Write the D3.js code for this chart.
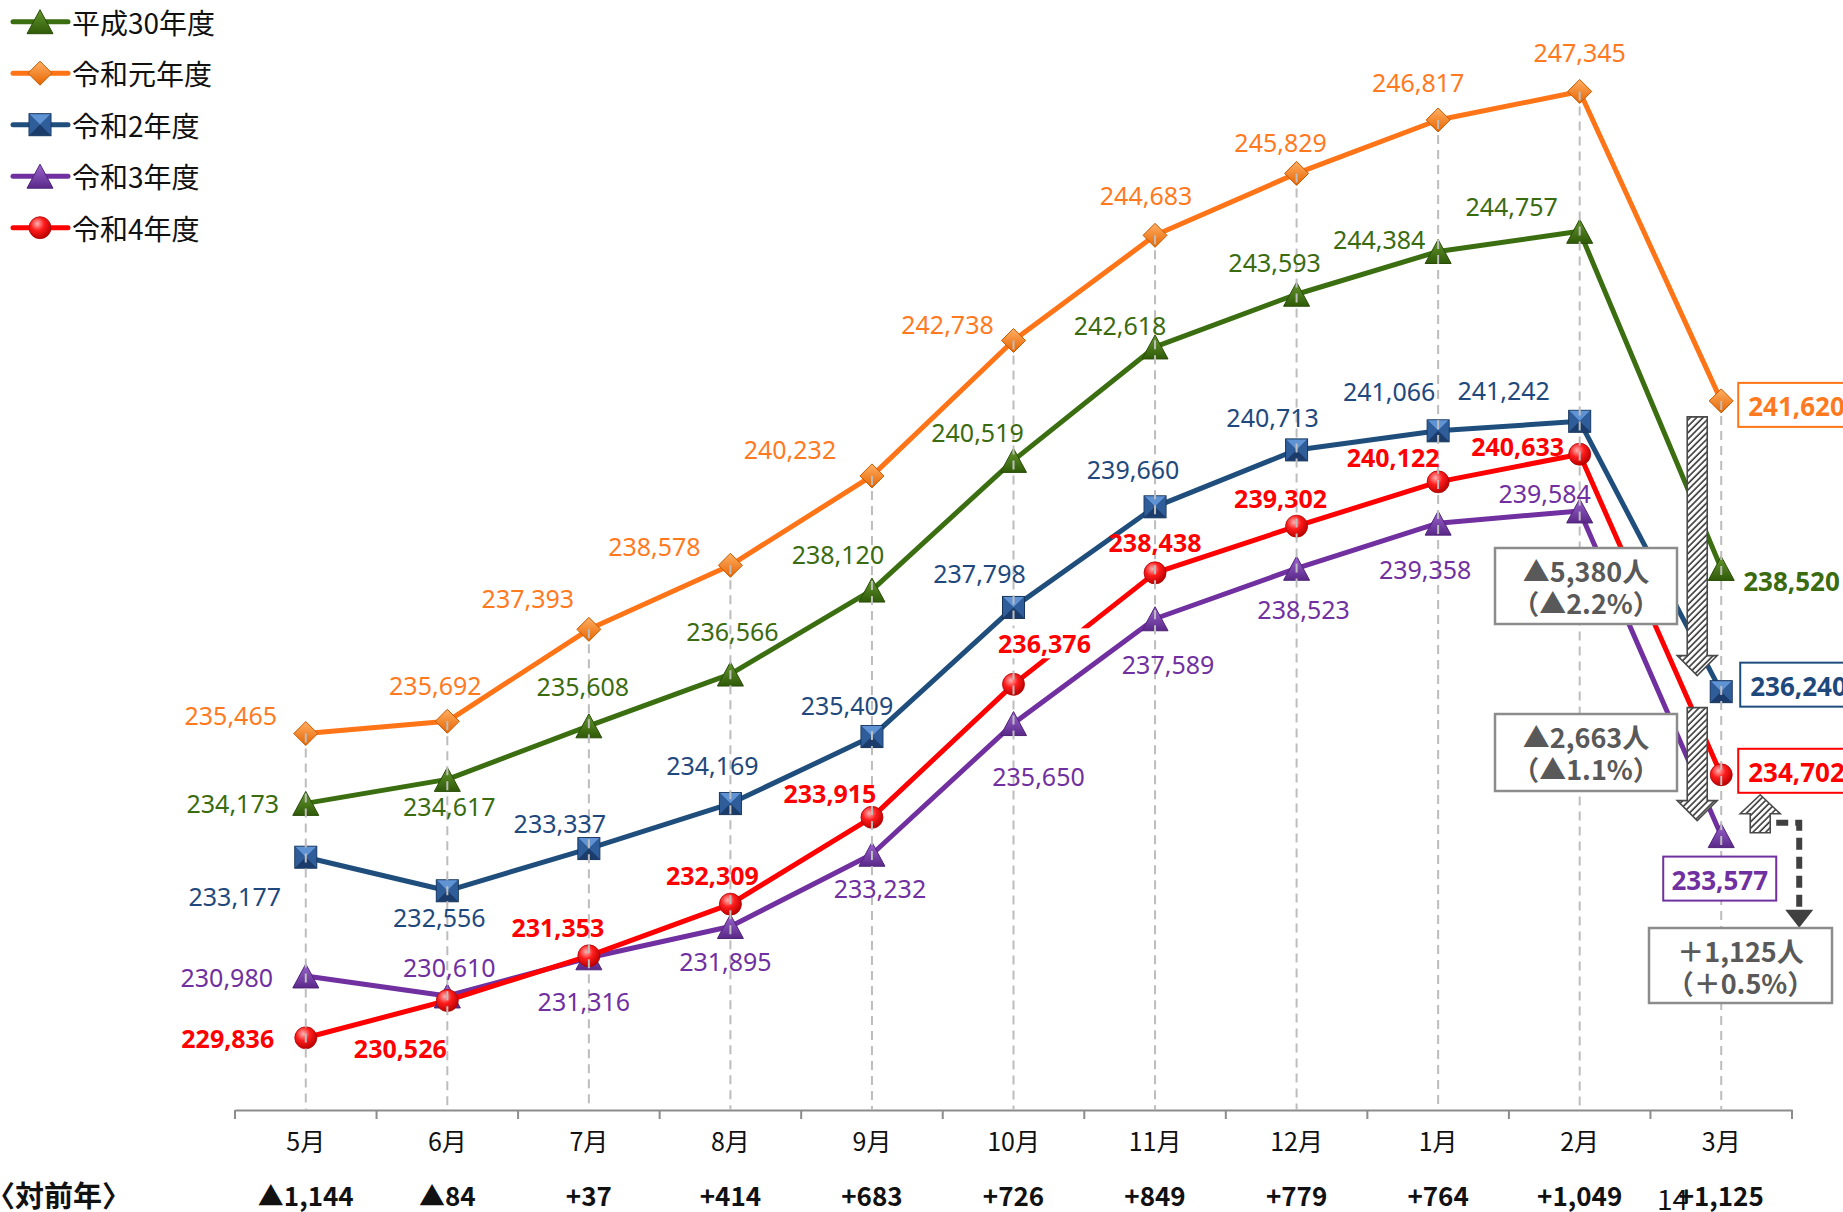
<!DOCTYPE html>
<html>
<head>
<meta charset="utf-8">
<script src="https://cdn.jsdelivr.net/npm/d3@7"></script>
<style>
  body { margin: 0; background: #fff; }
  svg { display: block; }
</style>
</head>
<body>
<svg id="chart" width="1843" height="1212"></svg>
<script>
// ---- data ----
const months = ["5月", "6月", "7月", "8月", "9月", "10月", "11月", "12月", "1月", "2月", "3月"];
const seriesNames = ["平成30年度", "令和元年度", "令和2年度", "令和3年度", "令和4年度"];
const h30 = [234173, 234617, 235608, 236566, 238120, 240519, 242618, 243593, 244384, 244757, 238520];
const r1  = [235465, 235692, 237393, 238578, 240232, 242738, 244683, 245829, 246817, 247345, 241620];
const r2  = [233177, 232556, 233337, 234169, 235409, 237798, 239660, 240713, 241066, 241242, 236240];
const r3  = [230980, 230610, 231316, 231895, 233232, 235650, 237589, 238523, 239358, 239584, 233577];
const r4  = [229836, 230526, 231353, 232309, 233915, 236376, 238438, 239302, 240122, 240633, 234702];
const yoyLabels = ["▲1,144", "▲84", "+37", "+414", "+683", "+726", "+849", "+779", "+764", "+1,049", "+1,125"];
const diffNotes = [["▲5,380人", "（▲2.2%）"], ["▲2,663人", "（▲1.1%）"], ["＋1,125人", "（＋0.5%）"]];

// ---- styling / layout ----
const svg = d3.select("#chart");
const defs = svg.append("defs");
const numFont = "'Noto Sans', sans-serif";
const jpFont = "'Noto Sans CJK JP', 'Noto Sans', sans-serif";

const styles = [
  { line: "#3b6e10", text: "#3a6b0f", shape: "triangle", g: ["#66982f", "#2f5a08"], stroke: "#2a4c09", bold: false },
  { line: "#ff7417", text: "#ff7a1f", shape: "diamond",  g: ["#ffb066", "#e66400"], stroke: "#c45a00", bold: false },
  { line: "#1f4e7d", text: "#1f497d", shape: "square",   g: ["#5a8ccc", "#1b3c6a"], stroke: "#17355c", bold: false },
  { line: "#7030a0", text: "#7030a0", shape: "triangle", g: ["#9c66cf", "#5a2889"], stroke: "#4f2378", bold: false },
  { line: "#ff0000", text: "#ff0000", shape: "circle",   g: ["#ffa0a0", "#d00000"], stroke: "#b00000", bold: true }
];
const allSeries = [h30, r1, r2, r3, r4];

// label nudges [dx, dy] per series and month (last month handled separately)
const nudges = [
  [[-73,0],[2,27],[-6,-40],[2,-43],[-34,-36],[-36,-28],[-35,-22],[-22,-32],[-59,-12],[-68,-25]],
  [[-75,-19],[-12,-36],[-61,-31],[-76,-19],[-82,-27],[-66,-16],[-9,-40],[-16,-31],[-20,-38],[0,-39]],
  [[-71,39],[-8,26],[-29,-26],[-18,-39],[-25,-32],[-34,-34],[-22,-38],[-24,-33],[-49,-40],[-76,-31]],
  [[-79,1],[2,-29],[-5,43],[-5,34],[8,34],[25,52],[13,45],[7,41],[-13,46],[-35,-18]],
  [[-78,0],[-47,48],[-31,-29],[-18,-29],[-42,-24],[31,-41],[0,-31],[-16,-28],[-45,-25],[-62,-8]]
];
// labels that sit on a white plate over the lines: [series, month]
const platedLabels = [[4, 5]];

// ---- scales ----
const x = d3.scaleBand().domain(months).range([235, 1792]).padding(0);
const cx = m => x(m) + x.bandwidth() / 2;
const y = d3.scaleLinear().domain([228500, 249000]).range([1110, 2]);

// ---- gradients & pattern ----
styles.forEach((s, i) => {
  if (s.shape === "circle") {
    const rg = defs.append("radialGradient").attr("id", "mg" + i)
      .attr("cx", "38%").attr("cy", "32%").attr("r", "70%");
    rg.append("stop").attr("offset", "0%").attr("stop-color", "#ffb3b3");
    rg.append("stop").attr("offset", "45%").attr("stop-color", "#ff1c1c");
    rg.append("stop").attr("offset", "100%").attr("stop-color", "#b80000");
  } else {
    const lg = defs.append("linearGradient").attr("id", "mg" + i)
      .attr("x1", 0).attr("y1", 0).attr("x2", 0).attr("y2", 1);
    lg.append("stop").attr("offset", "0%").attr("stop-color", s.g[0]);
    lg.append("stop").attr("offset", "100%").attr("stop-color", s.g[1]);
  }
});
const pat = defs.append("pattern").attr("id", "hatch").attr("patternUnits", "userSpaceOnUse")
  .attr("width", 4.5).attr("height", 4.5).attr("patternTransform", "rotate(45)");
pat.append("rect").attr("width", 4.5).attr("height", 4.5).attr("fill", "#fff");
pat.append("line").attr("x1", 1).attr("y1", 0).attr("x2", 1).attr("y2", 4.5)
  .attr("stroke", "#1a1a1a").attr("stroke-width", 1.4);

function drawMarker(g, s, i) {
  if (s.shape === "triangle") {
    g.append("path").attr("d", "M0,-12L13,12L-13,12Z")
      .attr("fill", `url(#mg${i})`).attr("stroke", s.stroke).attr("stroke-width", 1);
  } else if (s.shape === "diamond") {
    g.append("path").attr("d", "M0,-12L12,0L0,12L-12,0Z")
      .attr("fill", `url(#mg${i})`).attr("stroke", s.stroke).attr("stroke-width", 1);
  } else if (s.shape === "square") {
    g.append("rect").attr("x", -11).attr("y", -11).attr("width", 22).attr("height", 22)
      .attr("fill", "#244e86").attr("stroke", s.stroke).attr("stroke-width", 1);
    g.append("path").attr("d", "M-10.5,-10.5L10.5,-10.5L0,0Z").attr("fill", "#5f93d4");
    g.append("path").attr("d", "M-10.5,-10.5L0,0L-10.5,10.5Z").attr("fill", "#2e5d9a");
    g.append("path").attr("d", "M10.5,-10.5L0,0L10.5,10.5Z").attr("fill", "#2e5d9a");
    g.append("path").attr("d", "M-10.5,10.5L0,0L10.5,10.5Z").attr("fill", "#1b3c6a");
  } else {
    g.append("circle").attr("r", 11).attr("fill", `url(#mg${i})`)
      .attr("stroke", s.stroke).attr("stroke-width", 0.8);
  }
}

// ---- axis ----
const axisG = svg.append("g").attr("transform", "translate(0,1110)")
  .call(d3.axisBottom(x).tickSize(0).tickSizeOuter(0));
axisG.select(".domain").attr("stroke", "#8c8c8c").attr("stroke-width", 2);
axisG.selectAll(".tick text")
  .attr("y", 41).attr("dy", null)
  .attr("font-family", jpFont).attr("font-size", 25).attr("fill", "#111");
const bounds = months.map(m => x(m)).concat([x.range()[1]]);
axisG.selectAll(".bound").data(bounds).join("line").attr("class", "bound")
  .attr("x1", d => d).attr("x2", d => d).attr("y1", 0).attr("y2", 9)
  .attr("stroke", "#8c8c8c").attr("stroke-width", 2);

// ---- lines & markers ----
const line = d3.line().x((d, i) => cx(months[i])).y(d => y(d));
allSeries.forEach((data, si) => {
  const s = styles[si];
  svg.append("path").datum(data).attr("d", line)
    .attr("fill", "none").attr("stroke", s.line).attr("stroke-width", 5)
    .attr("stroke-linejoin", "round");
});
allSeries.forEach((data, si) => {
  const s = styles[si];
  data.forEach((v, i) => {
    const g = svg.append("g").attr("transform", `translate(${cx(months[i])},${y(v)})`);
    drawMarker(g, s, si);
  });
});

// ---- drop lines from the top series to the axis ----
svg.append("g").selectAll("line").data(months).join("line")
  .attr("x1", m => cx(m)).attr("x2", m => cx(m))
  .attr("y1", (m, i) => y(d3.max(allSeries, s => s[i])))
  .attr("y2", 1110)
  .attr("stroke", "#bdbdbd").attr("stroke-width", 2).attr("stroke-dasharray", "9,6");

// ---- value labels ----
const fmt = d3.format(",");
allSeries.forEach((data, si) => {
  const s = styles[si];
  data.slice(0, 10).forEach((v, i) => {
    const [dx, dy] = nudges[si][i];
    const t = svg.append("text")
      .attr("x", cx(months[i]) + dx).attr("y", y(v) + dy)
      .attr("text-anchor", "middle").attr("dominant-baseline", "central")
      .attr("font-family", numFont).attr("font-size", 25)
      .attr("font-weight", s.bold ? 700 : 400)
      .attr("fill", s.text).text(fmt(v));
    if (platedLabels.some(([a, b]) => a === si && b === i)) {
      const bb = t.node().getBBox();
      svg.insert("rect", () => t.node())
        .attr("x", bb.x - 3).attr("y", bb.y + 2).attr("width", bb.width + 6).attr("height", bb.height - 4)
        .attr("fill", "#fff");
    }
  });
});

// last-month labels
const last = months.length - 1;
const xl = cx(months[last]);
svg.append("text").attr("x", xl + 22).attr("y", y(h30[last]) + 13)
  .attr("dominant-baseline", "central")
  .attr("font-family", numFont).attr("font-size", 26).attr("font-weight", 700)
  .attr("fill", styles[0].text).text(fmt(h30[last]));

function boxedLabel(val, s, bx, by, bw, bh, anchorMid) {
  svg.append("rect").attr("x", bx).attr("y", by).attr("width", bw).attr("height", bh)
    .attr("fill", "#fff").attr("stroke", s.line).attr("stroke-width", 2);
  svg.append("text")
    .attr("x", anchorMid ? bx + bw / 2 : bx + 10).attr("y", by + bh / 2 + 1)
    .attr("text-anchor", anchorMid ? "middle" : "start")
    .attr("dominant-baseline", "central")
    .attr("font-family", numFont).attr("font-size", 26).attr("font-weight", 700)
    .attr("fill", s.text).text(fmt(val));
}
boxedLabel(r1[last], styles[1], xl + 17, y(r1[last]) - 18, 130, 44, false);
boxedLabel(r2[last], styles[2], xl + 19, y(r2[last]) - 29, 130, 44, false);
boxedLabel(r4[last], styles[4], xl + 17, y(r4[last]) - 26, 130, 44, false);

// ---- difference arrows & notes ----
function downArrow(cxp, top, tip) {
  const sw = 10, hw = 20, hh = 20;
  return `M${cxp - sw},${top}L${cxp + sw},${top}L${cxp + sw},${tip - hh}L${cxp + hw},${tip - hh}` +
         `L${cxp},${tip}L${cxp - hw},${tip - hh}L${cxp - sw},${tip - hh}Z`;
}
function upArrow(cxp, tip, bottom) {
  const sw = 10, hw = 20, hh = 19;
  return `M${cxp - sw},${bottom}L${cxp + sw},${bottom}L${cxp + sw},${tip + hh}L${cxp + hw},${tip + hh}` +
         `L${cxp},${tip}L${cxp - hw},${tip + hh}L${cxp - sw},${tip + hh}Z`;
}
const arrowX = xl - 24;
svg.append("path").attr("d", downArrow(arrowX, y(r1[last]) + 16, y(r2[last]) - 16))
  .attr("fill", "url(#hatch)").attr("stroke", "#4a4a4a").attr("stroke-width", 1.6);
svg.append("path").attr("d", downArrow(arrowX, y(r2[last]) + 16, y(r3[last]) - 15))
  .attr("fill", "url(#hatch)").attr("stroke", "#4a4a4a").attr("stroke-width", 1.6);
svg.append("path").attr("d", upArrow(xl + 39, y(r4[last]) + 20, y(r4[last]) + 58))
  .attr("fill", "url(#hatch)").attr("stroke", "#4a4a4a").attr("stroke-width", 1.6);

boxedLabel(r3[last], styles[3], xl - 58, y(r3[last]) + 21, 113, 44, true);

// dashed elbow connector
const ey = y(r4[last]) + 48;
svg.append("path").attr("d", `M${xl + 55},${ey}L${xl + 78},${ey}L${xl + 78},${ey + 88}`)
  .attr("fill", "none").attr("stroke", "#404040").attr("stroke-width", 6)
  .attr("stroke-dasharray", "12,7");
svg.append("path").attr("d", `M${xl + 64},${ey + 87}L${xl + 92},${ey + 87}L${xl + 78},${ey + 105}Z`)
  .attr("fill", "#404040");

function noteBox(lines, bx, by, bw, bh) {
  svg.append("rect").attr("x", bx).attr("y", by).attr("width", bw).attr("height", bh)
    .attr("fill", "#fff").attr("stroke", "#8c8c8c").attr("stroke-width", 2.5);
  lines.forEach((t, k) => {
    svg.append("text").attr("x", bx + bw / 2).attr("y", by + 34 + k * 32)
      .attr("text-anchor", "middle")
      .attr("font-family", jpFont).attr("font-size", 27).attr("font-weight", 700)
      .attr("fill", "#595959").text(t);
  });
}
noteBox(diffNotes[0], 1495, 548, 182, 76);
noteBox(diffNotes[1], 1495, 714, 182, 77);
noteBox(diffNotes[2], 1649, 928, 183, 75);

// ---- year-on-year row ----
svg.append("text").attr("x", -14).attr("y", 1207)
  .attr("font-family", jpFont).attr("font-size", 29).attr("font-weight", 700)
  .attr("fill", "#111").text("〈対前年〉");
svg.append("g").selectAll("text").data(months).join("text")
  .attr("x", m => cx(m)).attr("y", 1206)
  .attr("text-anchor", "middle")
  .attr("font-family", jpFont).attr("font-size", 26).attr("font-weight", 700)
  .attr("fill", "#111").text((m, i) => yoyLabels[i]);
svg.append("text").attr("x", 1657).attr("y", 1210)
  .attr("font-family", jpFont).attr("font-size", 28)
  .attr("fill", "#111").text("14");

// ---- legend ----
const legend = svg.append("g");
seriesNames.forEach((name, i) => {
  const s = styles[i];
  const ly = 21.7 + i * 51.5;
  legend.append("line").attr("x1", 13).attr("x2", 68).attr("y1", ly).attr("y2", ly)
    .attr("stroke", s.line).attr("stroke-width", 5).attr("stroke-linecap", "round");
  const g = legend.append("g").attr("transform", `translate(40,${ly})`);
  drawMarker(g, s, i);
  legend.append("text").attr("x", 72).attr("y", ly).attr("dominant-baseline", "central")
    .attr("font-family", jpFont).attr("font-size", 28).attr("fill", "#111").text(name);
});
</script>
</body>
</html>
